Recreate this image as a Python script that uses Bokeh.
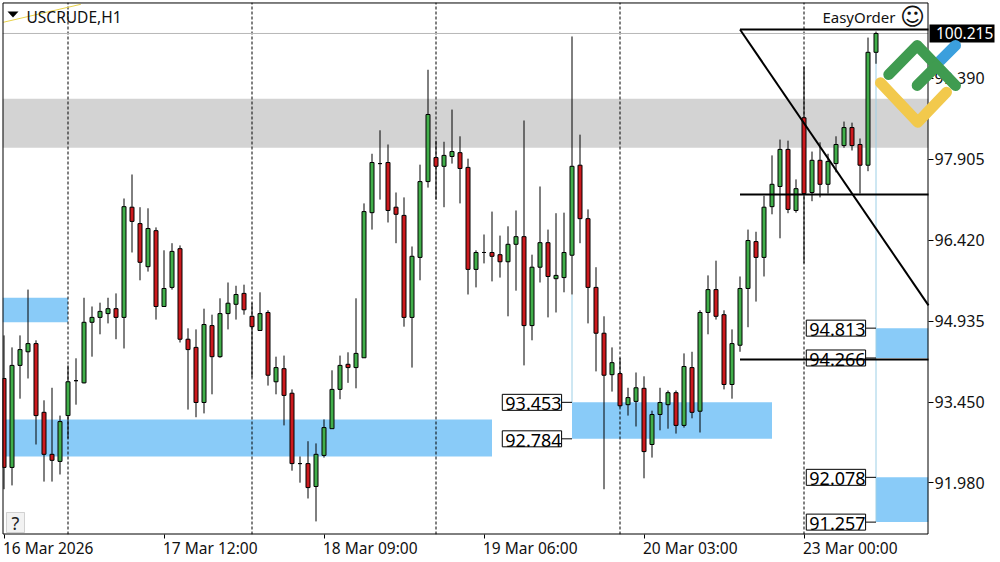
from bokeh.core.properties import value
from bokeh.embed import file_html
from bokeh.models import FixedTicker, Label, LinearAxis, NumeralTickFormatter, PolyAnnotation, Range1d
from bokeh.plotting import figure
from bokeh.resources import INLINE

opens = [93.89, 92.26, 94.13, 94.38, 94.53, 93.27, 92.50, 92.37, 93.21, 93.85,
         93.81, 94.92, 95.01, 95.08, 95.17, 95.01, 97.03, 96.73, 95.94, 96.60,
         95.21, 95.56, 96.27, 94.61, 94.46, 93.45, 94.86, 94.29, 95.08, 95.25,
         95.45, 95.03, 94.77, 95.10, 93.83, 94.07, 93.62, 92.33, 92.33, 91.91,
         92.48, 92.97, 93.69, 94.15, 94.09, 94.27, 96.93, 97.83, 97.85, 97.03,
         96.88, 95.01, 96.11, 97.50, 97.94, 97.78, 97.96, 98.03, 97.76, 95.89,
         96.20, 96.20, 96.16, 96.03, 96.35, 96.49, 94.86, 95.93, 96.38, 95.72,
         95.74, 96.15, 97.80, 96.82, 95.56, 94.72, 93.96, 93.98, 93.41, 93.47,
         93.71, 92.68, 93.23, 93.41, 93.63, 93.03, 94.09, 93.29, 95.10, 95.52,
         95.06, 93.78, 94.50, 95.54, 96.40, 96.11, 97.04, 97.41, 98.09, 96.97,
         98.67, 97.30, 97.89, 97.45, 97.83, 98.16, 98.49, 98.18, 97.80, 99.87]
highs = [94.68, 94.46, 94.68, 95.52, 94.59, 93.49, 93.72, 93.21, 94.13, 94.26,
         95.37, 95.21, 95.28, 95.37, 95.45, 97.19, 97.63, 97.03, 97.01, 96.66,
         96.24, 96.37, 96.33, 94.81, 94.79, 95.17, 95.06, 95.36, 95.65, 95.59,
         95.61, 95.28, 95.47, 95.14, 94.29, 94.31, 93.69, 92.46, 92.74, 92.70,
         93.14, 94.04, 94.31, 94.37, 95.36, 97.10, 98.01, 98.44, 98.18, 97.30,
         97.21, 96.31, 97.81, 99.55, 98.25, 98.23, 98.82, 98.33, 97.92, 96.24,
         96.53, 96.95, 96.51, 96.68, 96.97, 98.62, 96.16, 97.41, 96.62, 96.92,
         96.93, 100.16, 98.36, 96.99, 95.93, 95.03, 94.46, 94.27, 93.72, 94.00,
         93.93, 93.30, 93.72, 93.67, 93.67, 94.35, 94.38, 95.14, 95.78, 96.05,
         95.14, 94.79, 95.76, 96.62, 96.58, 97.24, 97.98, 98.27, 98.25, 97.54,
         99.61, 98.05, 98.22, 98.01, 98.33, 98.60, 98.58, 98.29, 100.14, 100.25]
lows = [91.86, 91.93, 93.52, 93.89, 92.68, 92.00, 92.00, 92.13, 92.79, 93.41,
        93.80, 94.29, 94.70, 94.90, 94.61, 94.44, 96.20, 95.69, 95.85, 94.97,
        95.21, 95.52, 94.55, 93.32, 93.18, 93.25, 93.60, 94.27, 94.79, 94.97,
        95.06, 93.91, 94.77, 93.76, 93.60, 93.03, 92.20, 91.98, 91.69, 91.27,
        92.44, 92.97, 93.51, 93.81, 93.71, 94.27, 96.62, 97.17, 96.75, 96.37,
        94.84, 94.09, 95.69, 97.39, 97.17, 97.03, 97.83, 97.10, 95.43, 95.56,
        96.00, 95.67, 95.74, 95.03, 95.50, 94.13, 94.59, 95.65, 95.01, 95.10,
        95.47, 95.43, 96.37, 94.90, 94.02, 91.86, 93.65, 93.36, 93.21, 93.01,
        92.06, 92.44, 92.94, 92.97, 92.88, 92.99, 93.16, 92.90, 94.70, 94.97,
        93.69, 93.52, 94.38, 94.83, 95.30, 95.76, 96.90, 96.46, 96.92, 96.93,
        96.00, 97.14, 97.21, 97.28, 97.67, 98.12, 98.07, 97.28, 97.69, 99.66]
closes = [92.26, 94.13, 94.42, 94.53, 93.21, 92.50, 92.39, 93.10, 93.83, 93.85,
          94.92, 95.01, 95.12, 95.17, 95.01, 97.04, 96.77, 96.02, 96.64, 95.21,
          95.54, 96.22, 94.61, 94.42, 93.45, 94.88, 94.29, 95.08, 95.27, 95.43,
          95.15, 94.84, 95.08, 93.95, 94.09, 93.58, 92.33, 92.33, 91.89, 92.50,
          92.99, 93.69, 94.13, 94.09, 94.35, 96.95, 97.85, 97.83, 96.97, 96.90,
          95.01, 96.13, 97.50, 98.73, 97.78, 97.98, 98.05, 97.74, 95.89, 96.20,
          96.20, 96.13, 96.03, 96.35, 96.49, 94.86, 95.93, 96.38, 95.76, 95.78,
          96.20, 97.78, 96.82, 95.56, 94.72, 93.95, 94.18, 93.39, 93.54, 93.72,
          92.55, 93.23, 93.45, 93.63, 93.03, 94.11, 93.27, 95.10, 95.52, 95.03,
          93.78, 94.53, 95.54, 96.42, 96.11, 97.03, 97.45, 98.09, 96.99, 97.37,
          97.28, 97.89, 97.45, 97.87, 98.18, 98.49, 98.16, 97.80, 99.87, 100.215]
bars = list(range(len(opens)))

price_ticks = [99.390, 97.905, 96.420, 94.935, 93.450, 91.980]
last_price = 100.215
time_bars = [0, 20, 40, 60, 80, 100]
time_labels = ["16 Mar 2026", "17 Mar 12:00", "18 Mar 09:00", "19 Mar 06:00", "20 Mar 03:00", "23 Mar 00:00"]
day_separators = [8, 31, 54, 77, 100]

# zones
grey_zone = (99.02, 98.12)
left_x0, right_x1 = -0.1875, 115.5625
y_min, y_max = 91.03, 100.783
zone_x0 = [left_x0, left_x0, 71, 109, 109]
zone_x1 = [8, 61, 96, right_x1, right_x1]
zone_top = [95.37, 93.14, 93.453, 94.813, 92.078]
zone_bottom = [94.92, 92.46, 92.784, 94.266, 91.257]

# boxed prices next to the zones
level_bars = [71, 71, 109, 109, 109, 109]
level_prices = [93.453, 92.784, 94.813, 94.266, 92.078, 91.257]

fork_bar = 92
fork_levels = [100.288, 97.263, 94.238]
fork_end_price = 95.23

FONT = "Noto Sans"
BLACK = "#000000"
BLUE = "#89CBF8"


# the watermark, tag and border were measured in pixels, turn them into chart units
def bar_at(px):
    return (px - 3.5) / 8


def price_at(py):
    return 100.82 - py * 11 / 600


p = figure(width=1000, height=562, output_backend="svg", toolbar_location=None,
           x_range=Range1d(left_x0, right_x1), y_range=Range1d(y_min, y_max),
           min_border_left=2, min_border_right=72, min_border_top=2, min_border_bottom=28,
           x_axis_location=None, y_axis_location=None,
           background_fill_color="white", border_fill_color="white", outline_line_color=None)
p.grid.visible = False

# right price axis
yaxis = LinearAxis(ticker=FixedTicker(ticks=price_ticks), formatter=NumeralTickFormatter(format="0.000"))
yaxis.axis_line_color = None
yaxis.major_tick_line_color = BLACK
yaxis.major_tick_in = 0
yaxis.major_tick_out = 5
yaxis.minor_tick_line_color = None
yaxis.major_label_text_font = FONT
yaxis.major_label_text_font_size = "16px"
yaxis.major_label_text_color = "#111111"
yaxis.major_label_standoff = 1
p.add_layout(yaxis, "right")

# bottom time axis, its labels start at the tick so they are drawn as text below
xaxis = LinearAxis(ticker=FixedTicker(ticks=time_bars),
                   major_label_overrides={b: "" for b in time_bars})
xaxis.axis_line_color = None
xaxis.major_tick_line_color = BLACK
xaxis.major_tick_in = 0
xaxis.major_tick_out = 4
xaxis.minor_tick_line_color = None
p.add_layout(xaxis, "below")
p.text(x=time_bars, y=[price_at(547.5)] * len(time_bars), text=time_labels, x_offset=-1,
       text_font=value(FONT), text_font_size="15.5px", text_color="#111111",
       text_baseline="middle", level="overlay")

# zones, separators and the bid line
p.quad(left=left_x0, right=right_x1, top=grey_zone[0], bottom=grey_zone[1], fill_color="#D3D3D3", line_color=None)
p.quad(left=zone_x0, right=zone_x1, top=zone_top, bottom=zone_bottom, fill_color=BLUE, line_color=None)
p.segment(x0=day_separators, x1=day_separators, y0=y_min, y1=y_max, line_color=BLACK, line_dash="3 2", line_width=1)
p.segment(x0=left_x0, x1=right_x1, y0=last_price, y1=last_price, line_color="#B8B8B8", line_width=1)
p.segment(x0=[71, 109], x1=[71, 109], y0=[93.453, 91.257], y1=[95.43, 100.215], line_color="#9CCFE6", line_width=1)
p.line([-0.1, 9.6], [100.42, 100.75], line_color="#E8D24A", line_width=1)

# candles
colors = ["#41AE4A" if c >= o else "#CC1A1E" for o, c in zip(opens, closes)]
p.segment(x0=bars, x1=bars, y0=lows, y1=highs, line_color=BLACK, line_width=1)
p.vbar(x=bars, top=[max(o, c) for o, c in zip(opens, closes)], bottom=[min(o, c) for o, c in zip(opens, closes)],
       width=0.5, fill_color=colors, line_color=BLACK, line_width=1)

# boxed level labels with their small ticks
gap = 1.3
for b, price in zip(level_bars, level_prices):
    p.add_layout(Label(x=b - gap, y=price, text=f"{price:.3f}", text_font=FONT, text_font_size="18px",
                       text_color=BLACK, text_align="right", text_baseline="middle",
                       background_fill_color="white", border_line_color=BLACK, border_line_width=1,
                       padding=(3, 0, 3, 0)))
    p.segment(x0=b - gap, x1=b, y0=price, y1=price, line_color=BLACK, line_width=1)

# fork drawn over the labels
p.segment(x0=fork_bar, x1=right_x1, y0=fork_levels, y1=fork_levels, line_color=BLACK, line_width=2, level="overlay")
p.line([fork_bar, right_x1], [fork_levels[0], fork_end_price], line_color=BLACK, line_width=2, level="overlay")

# texts inside the chart
p.add_layout(PolyAnnotation(xs=[7, 18, 12.5], ys=[11, 11, 17], xs_units="canvas", ys_units="canvas",
                            fill_color=BLACK, fill_alpha=1, line_color=None))
p.add_layout(Label(x=26, y=16, x_units="canvas", y_units="canvas", text="USCRUDE,H1", text_font=FONT,
                   text_font_size="15.5px", text_color="#111111", text_baseline="middle"))
p.add_layout(Label(x=895, y=16, x_units="canvas", y_units="canvas", text="EasyOrder", text_font=FONT,
                   text_font_size="15px", text_color="#111111", text_align="right", text_baseline="middle"))
p.add_layout(Label(x=912, y=16, x_units="canvas", y_units="canvas", text="\u263A", text_font="DejaVu Sans",
                   text_font_size="24px", text_color="#111111", text_align="center", text_baseline="middle"))
p.add_layout(PolyAnnotation(xs=[6, 24, 24, 6], ys=[512, 512, 532, 532], xs_units="canvas", ys_units="canvas",
                            fill_color="#F2F2F2", fill_alpha=1, line_color="#777777", line_width=1))
p.add_layout(Label(x=15, y=522, x_units="canvas", y_units="canvas", text="?", text_font=FONT,
                   text_font_size="18px", text_color="#222222", text_align="center", text_baseline="middle"))

# chart border
edge_l, edge_r = bar_at(2.5), bar_at(927.5)
edge_t, edge_b = price_at(2.5), price_at(533.5)
p.segment(x0=[edge_l, edge_r, edge_l, edge_l], x1=[edge_l, edge_r, edge_r, edge_r],
          y0=[edge_t, edge_t, edge_t, edge_b], y1=[edge_b, edge_b, edge_t, edge_b],
          line_color=BLACK, line_width=1, level="overlay")

# last price tag
p.quad(left=bar_at(929), right=bar_at(994), top=price_at(24), bottom=price_at(42), fill_color=BLACK, line_color=None,
       level="overlay")
p.text(x=[bar_at(935.5)], y=[last_price], text=["100.215"], text_font=value(FONT), text_font_size="15.5px",
       text_color="white", text_baseline="middle", level="overlay")

# logo watermark
logo_strokes = [
    ("#3B9FDD", [940, 955], [60, 45]),
    ("#F2C94C", [880, 917.3, 946], [82.3, 121.7, 91.7]),
    ("#3F9B50", [888.3, 916.7, 955], [74, 45, 85]),
    ("#3F9B50", [916.7, 936], [85, 65.7]),
]
for color, xs, ys in logo_strokes:
    p.line([bar_at(v) for v in xs], [price_at(v) for v in ys], line_color=color, line_width=11,
           line_cap="round", line_join="round", level="overlay")

open("out.html", "w").write(file_html(p, INLINE))
